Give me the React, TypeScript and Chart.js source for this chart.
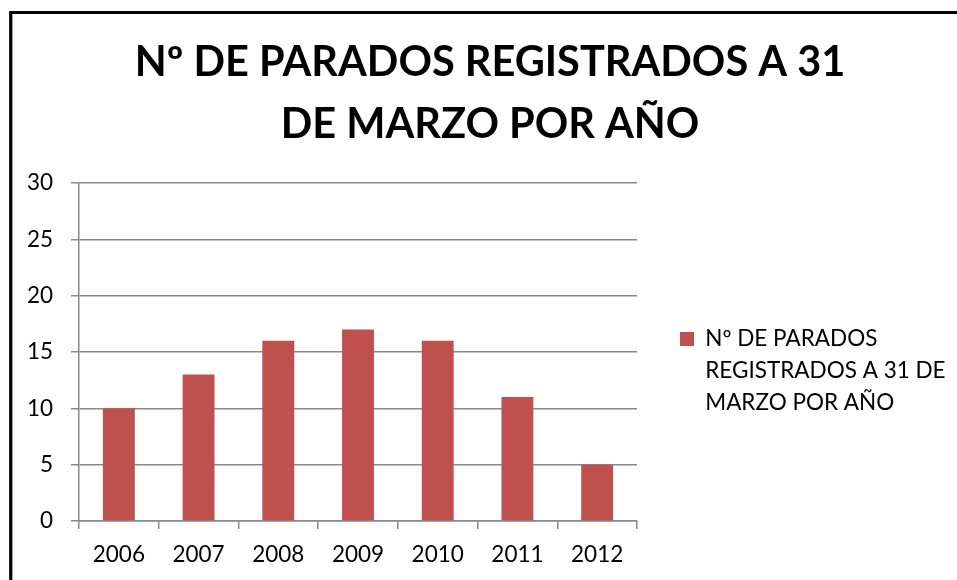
import React, { useEffect, useRef } from 'react';
import { Chart, registerables } from 'chart.js';

Chart.register(...registerables);

const years: string[] = ['2006', '2007', '2008', '2009', '2010', '2011', '2012'];
const parados: number[] = [10, 13, 16, 17, 16, 11, 5];
const titleLines: string[] = ['Nº DE PARADOS REGISTRADOS A 31', 'DE MARZO POR AÑO'];
const seriesName = 'Nº DE PARADOS REGISTRADOS A 31 DE MARZO POR AÑO';
const legendLines: string[] = ['Nº DE PARADOS', 'REGISTRADOS A 31 DE', 'MARZO POR AÑO'];
const yMin = 0;
const yMax = 30;
const yStep = 5;

const FONT = 'Lato, "Open Sans", sans-serif';
const GRID = '#898989';
const BAR = '#C0504D';

const framePlugin = {
  id: 'frame',
  afterDraw(chart: any) {
    const ctx = chart.ctx;
    ctx.save();
    ctx.strokeStyle = '#000';
    ctx.lineWidth = 3.2;
    ctx.beginPath();
    ctx.moveTo(10.75, chart.height + 5);
    ctx.lineTo(10.75, 12.5);
    ctx.lineTo(chart.width + 5, 12.5);
    ctx.stroke();
    ctx.restore();
  },
};

export default function App() {
  const ref = useRef<HTMLCanvasElement | null>(null);

  useEffect(() => {
    if (!ref.current) return;
    const chart = new Chart(ref.current, {
      type: 'bar',
      data: {
        labels: years,
        datasets: [
          {
            label: seriesName,
            data: parados,
            backgroundColor: BAR,
            borderWidth: 0,
            barPercentage: 0.4,
            categoryPercentage: 1,
          },
        ],
      },
      options: {
        responsive: false,
        devicePixelRatio: 1,
        animation: false,
        layout: { padding: { left: 26, right: 3, top: 0, bottom: 0 } },
        plugins: {
          title: {
            display: true,
            text: titleLines,
            color: '#000',
            font: { family: FONT, weight: 'bold', size: 41.5, lineHeight: 1.494 },
            padding: { top: 31.5, bottom: 27.5 },
          },
          legend: {
            display: true,
            position: 'right',
            align: 'center',
            fullSize: false,
            maxWidth: 317,
            title: {
              display: true,
              text: '',
              font: { family: FONT, size: 20, lineHeight: 1.2 },
              padding: { top: 11.75, bottom: 11.75 },
            },
            labels: {
              color: '#000',
              boxWidth: 14,
              boxHeight: 14,
              padding: 43,
              font: { family: FONT, size: 22.5, lineHeight: 1.422 },
              generateLabels: (c: any) => {
                const items = (Chart as any).defaults.plugins.legend.labels.generateLabels(c);
                return items.map((it: any) => ({ ...it, text: legendLines, lineWidth: 0 }));
              },
            },
          },
          tooltip: { enabled: false },
        },
        scales: {
          x: {
            afterFit: (scale: any) => {
              scale.height = 59;
            },
            grid: {
              display: true,
              drawOnChartArea: false,
              drawTicks: true,
              tickLength: 8,
              color: GRID,
              lineWidth: 1.5,
            },
            border: { display: true, color: GRID, width: 1.5 },
            ticks: {
              color: '#000',
              padding: 12.5,
              font: { family: FONT, size: 22.5 },
              maxRotation: 0,
            },
          },
          y: {
            min: yMin,
            max: yMax,
            afterFit: (scale: any) => {
              scale.width = 53;
            },
            ticks: {
              stepSize: yStep,
              color: '#000',
              padding: 18,
              font: { family: FONT, size: 22.5 },
            },
            grid: {
              display: true,
              drawOnChartArea: true,
              drawTicks: true,
              tickLength: 8,
              color: GRID,
              lineWidth: 1.5,
            },
            border: { display: true, color: GRID, width: 1.5 },
          },
        },
      },
      plugins: [framePlugin],
    });
    return () => chart.destroy();
  }, []);

  return (
    <div style={{ position: 'absolute', left: 0, top: 0, width: 957, height: 580, background: '#fff' }}>
      <canvas ref={ref} width={957} height={580} style={{ display: 'block', width: 957, height: 580 }} />
    </div>
  );
}
